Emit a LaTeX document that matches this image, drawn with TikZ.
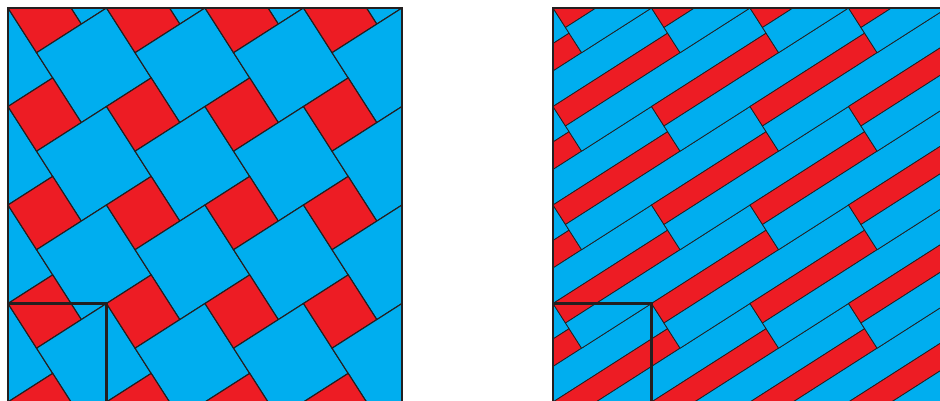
\documentclass[tikz,border=0pt]{standalone}
\definecolor{tred}{HTML}{ED1C24}
\definecolor{tblue}{HTML}{00AEEF}
\definecolor{inkdark}{HTML}{231F20}
\begin{document}
\begin{tikzpicture}[x=1pt,y=1pt,
  tile/.style={draw=inkdark, line width=0.75pt, line join=miter},
  redtile/.style={tile, fill=tred},
  bluetile/.style={tile, fill=tblue},
  thicktiles/.style={tile/.append style={line width=1.1pt}},
  border/.style={draw=inkdark, line width=2.2pt}]
\pgfmathsetmacro\L{98.5}
\pgfmathsetmacro\th{32.6}
\pgfmathsetmacro\A{\L*cos(\th)}
\pgfmathsetmacro\B{\L*sin(\th)}
\useasboundingbox (0,0) rectangle (940,-401);
% left panel: Pythagorean tiling
\begin{scope}[thicktiles]
\clip (8,-8) rectangle (402,-410);
\foreach \i in {-2,...,5}{
 \foreach \j in {-2,...,5}{
  \begin{scope}[shift={({8+\i*\L},{-8-\j*\L})}, rotate=\th]
   \path[redtile] (0,0) rectangle (\B,-\B);
   \path[bluetile] (0,-\B) rectangle (\A,{-\A-\B});
  \end{scope}
 }}
\end{scope}
% right panel: two rectangles, same lattice
\begin{scope}
\clip (553,-8) rectangle (947,-410);
\foreach \i in {-3,...,5}{
 \foreach \j in {-2,...,6}{
  \begin{scope}[shift={({553+\i*\L},{-8-\j*\L})}, rotate=\th]
   \path[redtile] (0,0) rectangle ({\A+\B},{-(2*\B-\A)});
   \path[bluetile] (0,{-(2*\B-\A)}) rectangle ({2*\A+\B},-\B);
  \end{scope}
 }}
\end{scope}
% frames and period cells
\draw[border] (8,-410) -- (8,-8) -- (402,-8) -- (402,-410);
\draw[border] (8,-303.5) -- (106.5,-303.5) -- (106.5,-410);
\draw[border] (553,-410) -- (553,-8) -- (947,-8);
\draw[border] (553,-303.5) -- (651.5,-303.5) -- (651.5,-410);
\end{tikzpicture}
\end{document}
